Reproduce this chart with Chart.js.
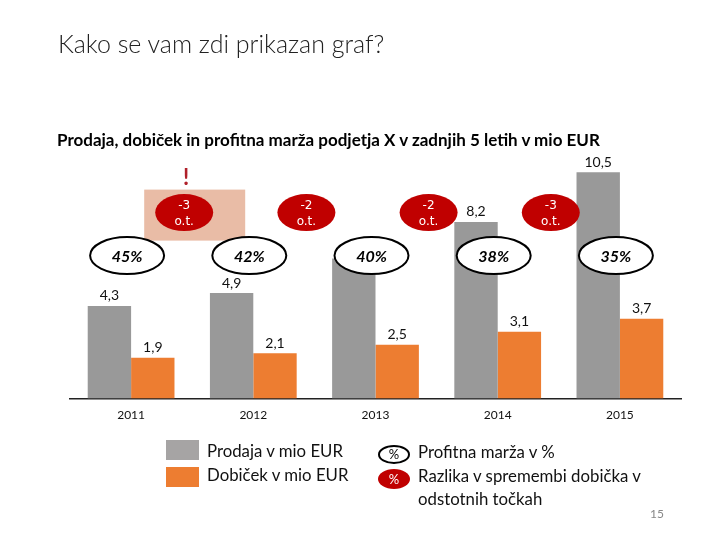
<!DOCTYPE html>
<html>
<head>
<meta charset="utf-8">
<script src="https://cdn.jsdelivr.net/npm/chart.js@4.4.1/dist/chart.umd.min.js"></script>
<style>
  body { margin: 0; background: #fff; font-family: Lato, "Open Sans", sans-serif; }
  #wrap { position: relative; width: 720px; height: 540px; overflow: hidden; }
  #chart { position: absolute; left: 0; top: 0; }
  .txt { position: absolute; white-space: nowrap; color: #111; }
  .title { left: 58px; top: 28px; font-size: 25px; font-weight: 300; color: #222; }
  .subtitle { left: 57px; top: 129px; font-size: 17px; font-weight: bold; color: #000; }
  .box { position: absolute; width: 33px; height: 20px; }
  .leg { font-size: 16.8px; }
  .ell { position: absolute; border-radius: 50%; box-sizing: border-box; text-align: center; font-size: 13px; }
  .pg { left: 650px; top: 506px; font-size: 12px; color: #888; }
</style>
</head>
<body>
<div id="wrap">
  <canvas id="chart" width="720" height="540"></canvas>
  <div class="txt title">Kako se vam zdi prikazan graf?</div>
  <div class="txt subtitle">Prodaja, dobiček in profitna marža podjetja X v zadnjih 5 letih v mio EUR</div>

  <div class="box" style="left:166px; top:440px; background:#a6a4a4;"></div>
  <div class="txt leg" style="left:207px; top:440px;">Prodaja v mio EUR</div>
  <div class="box" style="left:166px; top:467px; background:#ed7d31;"></div>
  <div class="txt leg" style="left:207px; top:464px;">Dobiček v mio EUR</div>

  <div class="ell" style="left:378px; top:445px; width:32px; height:19px; border:2px solid #000; line-height:15px;">%</div>
  <div class="txt leg" style="left:418px; top:441px;">Profitna marža v %</div>
  <div class="ell" style="left:378px; top:469px; width:32px; height:20px; background:#c00000; color:#fff; line-height:20px;">%</div>
  <div class="txt leg" style="left:418px; top:465px;">Razlika v spremembi dobička v</div>
  <div class="txt leg" style="left:418px; top:488px;">odstotnih točkah</div>

  <div class="txt pg">15</div>
</div>
<script>
const years = ['2011', '2012', '2013', '2014', '2015'];
const prodaja = [4.3, 4.9, 6.5, 8.2, 10.5];
const dobicek = [1.9, 2.1, 2.5, 3.1, 3.7];
const marza = [45, 42, 40, 38, 35];
const razlika = [-3, -2, -2, -3];
const poudarek = 0; // which change is highlighted

const fmt = v => v.toFixed(1).replace('.', ',');

function ellipse(ctx, cx, cy, rx, ry) {
  ctx.beginPath();
  ctx.ellipse(cx, cy, rx, ry, 0, 0, Math.PI * 2);
}

const overlay = {
  id: 'overlay',
  beforeDatasetsDraw(chart) {
    const { ctx, scales: { x }, chartArea } = chart;
    const cx = (x.getPixelForValue(poudarek) + x.getPixelForValue(poudarek + 1)) / 2 - 8;
    const cy = chartArea.bottom - 186;
    ctx.save();
    ctx.fillStyle = '#e9bca6';
    ctx.fillRect(cx - 40, cy - 23, 101, 51);
    ctx.fillStyle = '#b0202a';
    ctx.font = 'bold 22px Lato, sans-serif';
    ctx.textAlign = 'center';
    ctx.textBaseline = 'middle';
    ctx.fillText('!', cx + 2, cy - 35);
    ctx.restore();
  },
  afterDatasetsDraw(chart) {
    const { ctx, chartArea } = chart;
    ctx.save();
    ctx.textAlign = 'center';
    ctx.textBaseline = 'bottom';
    ctx.font = '14px Lato, sans-serif';
    ctx.fillStyle = '#111';
    chart.data.datasets.forEach((ds, di) => {
      chart.getDatasetMeta(di).data.forEach((bar, i) => {
        ctx.fillText(fmt(ds.data[i]), bar.x, bar.y - 3);
      });
    });

    const x = chart.scales.x;
    // profit margin ellipses
    const my = chartArea.bottom - 143;
    marza.forEach((m, i) => {
      const cx = x.getPixelForValue(i) - 4;
      ellipse(ctx, cx, my, 37, 18.5);
      ctx.fillStyle = '#fff';
      ctx.fill();
      ctx.lineWidth = 2;
      ctx.strokeStyle = '#000';
      ctx.stroke();
      ctx.fillStyle = '#000';
      ctx.font = 'italic bold 16px Lato, sans-serif';
      ctx.textBaseline = 'middle';
      ctx.fillText(m + '%', cx, my + 1);
    });

    // change in percentage points
    const ry = chartArea.bottom - 186;
    razlika.forEach((r, i) => {
      const cx = (x.getPixelForValue(i) + x.getPixelForValue(i + 1)) / 2 - 8;
      ellipse(ctx, cx, ry, 29, 18.5);
      ctx.fillStyle = '#c00000';
      ctx.fill();
      ctx.fillStyle = '#fff';
      ctx.font = '12px "DejaVu Sans", sans-serif';
      ctx.textBaseline = 'middle';
      ctx.fillText(String(r), cx, ry - 7);
      ctx.fillText('o.t.', cx, ry + 9);
    });
    ctx.restore();
  }
};

new Chart(document.getElementById('chart'), {
  type: 'bar',
  data: {
    labels: years,
    datasets: [
      { label: 'Prodaja v mio EUR', data: prodaja, backgroundColor: '#999999' },
      { label: 'Dobiček v mio EUR', data: dobicek, backgroundColor: '#ed7d31' }
    ]
  },
  options: {
    responsive: false,
    animation: false,
    categoryPercentage: 0.71,
    barPercentage: 1.0,
    layout: { padding: { left: 70, right: 39, top: 140, bottom: 109 } },
    plugins: { legend: { display: false }, tooltip: { enabled: false } },
    scales: {
      x: {
        grid: { display: false, drawTicks: false },
        border: { color: '#222', width: 1.5 },
        ticks: { color: '#111', padding: 9, font: { family: 'Lato', size: 12 } }
      },
      y: { display: false, min: 0, max: 12 }
    }
  },
  plugins: [overlay]
});
</script>
</body>
</html>
